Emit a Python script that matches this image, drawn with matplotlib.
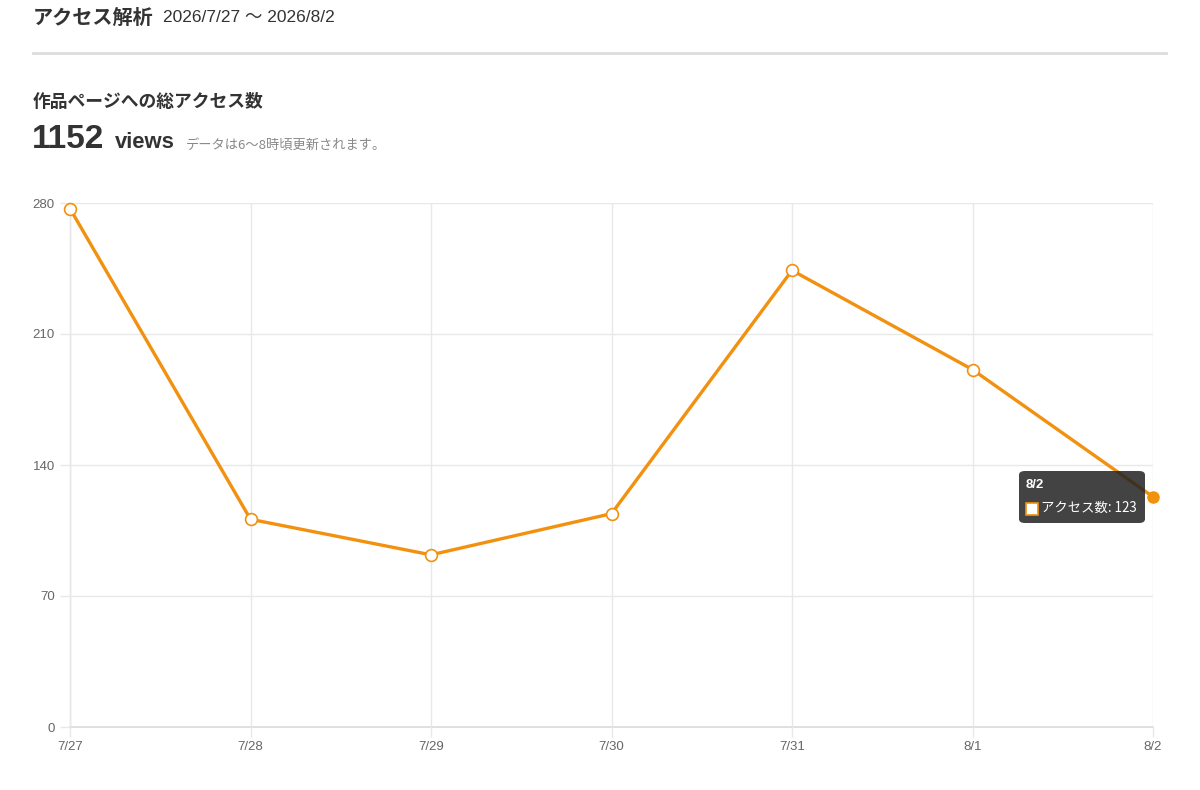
import matplotlib.pyplot as plt
from matplotlib.patches import FancyBboxPatch, Rectangle

dates = ['7/27', '7/28', '7/29', '7/30', '7/31', '8/1', '8/2']
views = [277, 111, 92, 114, 244, 191, 123]
yticks = [0, 70, 140, 210, 280]

orange = '#F2910F'
grid_c = '#e8e8e8'
jp = ['Noto Sans CJK JP', 'DejaVu Sans']
mixed = ['Liberation Sans', 'Noto Sans CJK JP', 'DejaVu Sans']
latin = ['Liberation Sans', 'DejaVu Sans']

W, H = 1200, 790
fig = plt.figure(figsize=(12, 7.9), dpi=100, facecolor='white')

def px(x, y):
    return x / W, 1 - y / H

# header
fig.text(*px(33, 17), 'アクセス解析', family=jp, fontsize=14.5, fontweight='bold',
         color='#333333', va='center')
fig.text(*px(163, 18), '2026/7/27 〜 2026/8/2', family=mixed, fontsize=12.5,
         color='#333333', va='center')
fig.add_artist(plt.Line2D([33 / W, 1166 / W], [1 - 53 / H] * 2, color='#dddddd', lw=2))
fig.text(*px(33, 102), '作品ページへの総アクセス数', family=jp, fontsize=12.8,
         fontweight='bold', color='#333333', va='center')
fig.text(*px(32, 140), str(sum(views)), family=latin, fontsize=24, fontweight='bold',
         color='#333333', va='center')
fig.text(*px(115, 142), 'views', family=latin, fontsize=15.8, fontweight='bold',
         color='#333333', va='center')
fig.text(*px(186, 145), 'データは6〜8時頃更新されます。', family=jp, fontsize=9.5,
         color='#888888', va='center')

ax = fig.add_axes([70 / W, 1 - 727 / H, (1153 - 70) / W, (727 - 203) / H])
x = list(range(len(dates)))
ax.set_xlim(0, len(dates) - 1)
ax.set_ylim(0, 280)
ax.set_xticks(x)
ax.set_xticklabels(dates, family=latin, fontsize=9.5, color='#666666')
ax.set_yticks(yticks)
ax.set_yticklabels([str(v) for v in yticks], family=latin, fontsize=9.5, color='#666666')
ax.tick_params(axis='y', length=7, width=1, color=grid_c, pad=4)
ax.tick_params(axis='x', length=7, width=1, color=grid_c, pad=3)
ax.grid(True, color=grid_c, lw=1)
for s in ax.spines.values():
    s.set_visible(False)
ax.axhline(0, color='#d9d9d9', lw=1.2, clip_on=False, zorder=1)
ax.axvline(0, color='#d9d9d9', lw=1, clip_on=False, zorder=1)

ax.plot(x, views, color=orange, lw=2.4, zorder=3, clip_on=False)
ax.plot(x[:-1], views[:-1], 'o', ms=8.5, mfc='white', mec=orange, mew=1.2,
        zorder=4, clip_on=False)

# tooltip for the last point
tx0, ty0 = 1019, 471
box = FancyBboxPatch((tx0 / W, 1 - 523 / H), (1145 - tx0) / W, (523 - ty0) / H,
                     boxstyle='round,pad=0,rounding_size=0.005', transform=fig.transFigure,
                     facecolor='#222222', alpha=0.85, edgecolor='none', zorder=10)
fig.add_artist(box)
fig.text(*px(1026, 485), dates[-1], family=latin, fontsize=9.5, fontweight='bold',
         color='white', va='center', zorder=11)
fig.add_artist(Rectangle((1026 / W, 1 - 515 / H), 12 / W, 12 / H, transform=fig.transFigure,
                         facecolor='white', edgecolor=orange, lw=1.2, zorder=11))
fig.text(*px(1041, 508), f'アクセス数: {views[-1]}', family=jp, fontsize=9.6,
         color='white', va='center', zorder=11)

ax.plot(x[-1], views[-1], 'o', ms=8, color=orange, zorder=20, clip_on=False)

fig.savefig('out.png', dpi=100, facecolor='white')
